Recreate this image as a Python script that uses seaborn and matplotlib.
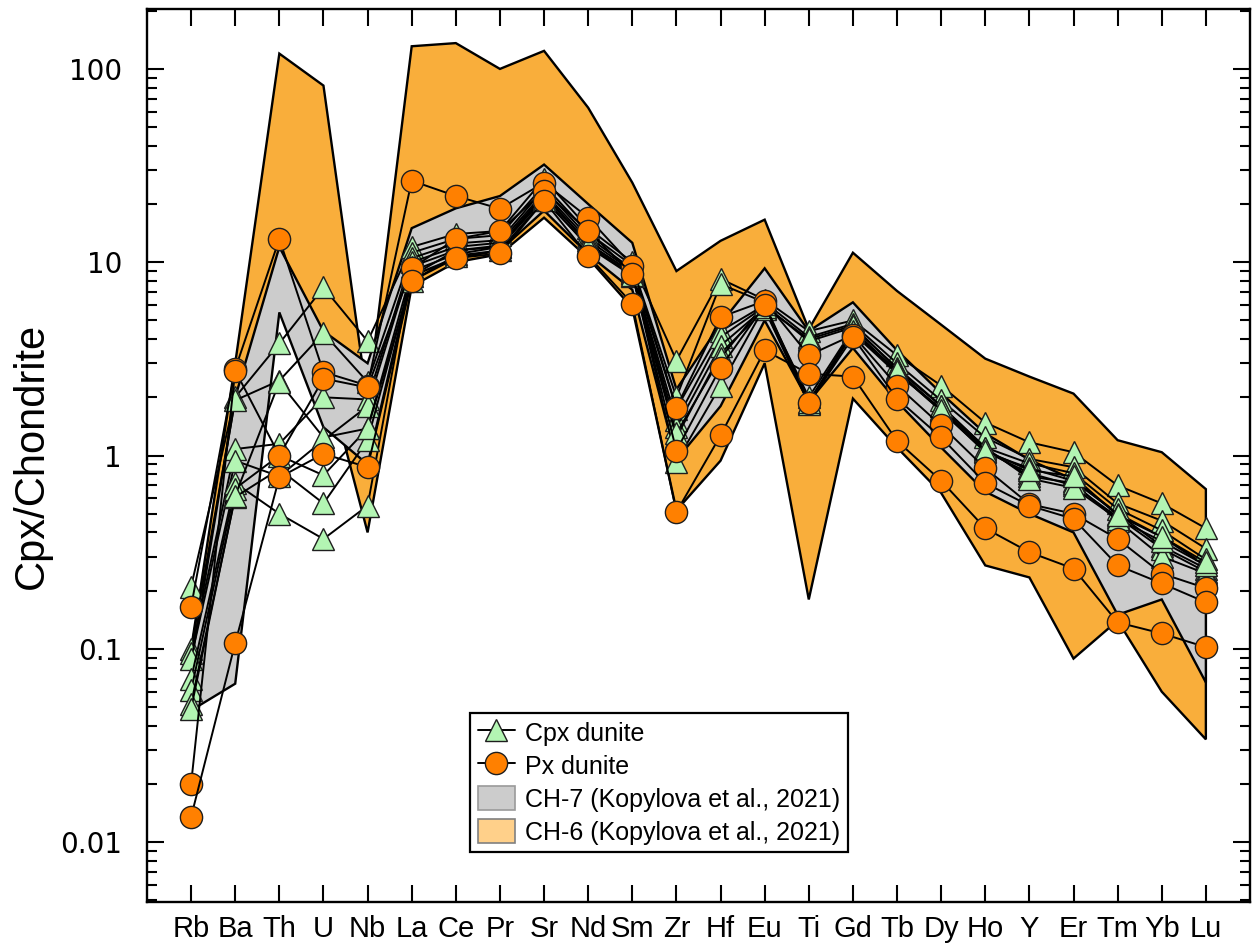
import numpy as np
import pandas as pd
import matplotlib
matplotlib.use("Agg")
import matplotlib.pyplot as plt
import seaborn as sns
from matplotlib import font_manager
from matplotlib.lines import Line2D
from matplotlib.patches import Patch
from matplotlib.ticker import LogLocator, NullFormatter, FixedLocator

# ---------------- data ----------------
elements = ["Rb", "Ba", "Th", "U", "Nb", "La", "Ce", "Pr", "Sr", "Nd", "Sm", "Zr",
            "Hf", "Eu", "Ti", "Gd", "Tb", "Dy", "Ho", "Y", "Er", "Tm", "Yb", "Lu"]

ch6_upper = [0.10, 3.0, 120, 82, 1.9, 131, 136, 100, 124, 63, 25.8, 9.0,
             12.9, 16.6, 4.5, 11.2, 7.1, 4.75, 3.17, 2.56, 2.09, 1.2, 1.04, 0.67]
ch6_lower = [0.05, 1.8, 6.5, 3.0, 0.40, 7.5, 10.0, 11.0, 17.0, 10.5, 5.8, 0.52,
             0.94, 3.0, 0.18, 1.97, 1.10, 0.64, 0.27, 0.234, 0.089, 0.14, 0.06, 0.034]

ch7_upper = [0.085, 2.0, 12.0, 4.4, 3.0, 15.0, 19.0, 22.0, 32.0, 20.0, 12.6, 2.2,
             4.8, 9.3, 4.4, 6.2, 3.5, 2.1, 1.3, 0.95, 0.75, 0.50, 0.38, 0.27]
ch7_lower = [0.048, 0.066, 5.5, 1.4, 0.9, 8.5, 10.5, 11.5, 18.5, 11.0, 7.2, 0.95,
             1.8, 5.0, 1.9, 3.6, 1.9, 1.1, 0.65, 0.50, 0.40, 0.15, 0.18, 0.067]

cpx_1 = [0.21, 2.0, 3.8, 7.4, 3.9, 12.0, 14.0, 14.5, 27.0, 15.0, 10.0, 3.1,
         8.2, 6.4, 4.4, 5.0, 3.3, 2.3, 1.48, 1.17, 1.04, 0.70, 0.565, 0.42]
cpx_2 = [0.10, 1.93, 2.44, 4.3, 2.4, 11.2, 13.2, 13.8, 25.0, 14.2, 9.6, 2.0,
         7.7, 6.2, 4.1, 4.8, 3.0, 1.93, 1.24, 0.96, 0.87, 0.565, 0.46, 0.33]
cpx_3 = [0.095, 1.08, 1.15, 2.0, 1.95, 10.5, 12.5, 13.0, 24.0, 13.5, 9.2, 1.75,
         4.4, 6.0, 3.9, 4.6, 2.85, 1.81, 1.10, 0.91, 0.81, 0.53, 0.41, 0.29]
cpx_4 = [0.089, 0.94, 0.78, 1.2, 1.8, 10.0, 12.0, 12.6, 23.0, 13.0, 9.0, 1.52,
         4.1, 5.9, 2.0, 4.5, 2.7, 1.71, 1.04, 0.86, 0.74, 0.50, 0.34, 0.26]
cpx_5 = [0.07, 0.72, 0.5, 0.37, 0.55, 9.5, 11.5, 12.0, 22.0, 12.5, 8.8, 1.4,
         3.7, 5.8, 1.88, 4.4, 2.7, 1.70, 1.05, 0.81, 0.70, 0.48, 0.33, 0.25]
cpx_6 = [0.061, 0.675, 1.0, 0.79, 1.38, 9.0, 11.0, 12.0, 21.5, 12.0, 8.5, 1.24,
         3.37, 5.7, 1.85, 4.3, 2.65, 1.75, 1.08, 0.78, 0.72, 0.46, 0.30, 0.245]
cpx_7 = [0.052, 0.61, 0.85, 0.565, 1.2, 8.5, 11.5, 12.2, 22.5, 12.5, 8.8, 0.93,
         2.3, 5.9, 4.0, 4.7, 2.8, 1.80, 1.10, 0.76, 0.68, 0.47, 0.36, 0.27]
cpx_8 = [0.049, 0.62, 2.4, 1.24, 1.38, 8.0, 10.8, 11.5, 21.0, 12.2, 8.6, 1.3,
         3.2, 6.1, 1.9, 4.4, 2.75, 1.72, 1.06, 0.84, 0.78, 0.49, 0.38, 0.28]

px_1 = [0.165, 2.8, 13.2, 2.7, 2.3, 26.4, 22.0, 18.9, 25.8, 17.0, 9.6, 1.77,
        5.2, 6.3, 3.3, 4.2, 2.3, 1.43, 0.86, 0.56, 0.50, 0.37, 0.245, 0.206]
px_2 = [0.02, 2.75, 1.0, 2.5, 2.25, 9.3, 13.2, 14.5, 23.4, 14.5, 8.7, 1.06,
        2.85, 6.0, 1.86, 4.1, 1.97, 1.24, 0.72, 0.55, 0.47, 0.27, 0.218, 0.174]
px_3 = [0.0135, 0.107, 0.77, 1.02, 0.87, 8.0, 10.5, 11.1, 20.8, 10.8, 6.1, 0.51,
        1.27, 3.5, 2.65, 2.56, 1.19, 0.74, 0.42, 0.316, 0.26, 0.137, 0.12, 0.102]

y_ticks = [0.01, 0.1, 1, 10, 100]
y_tick_labels = ["0.01", "0.1", "1", "10", "100"]

# ---------------- style / fonts ----------------
sns.set_style("ticks")
avail = {f.name for f in font_manager.fontManager.ttflist}
narrow = "Liberation Sans Narrow" if "Liberation Sans Narrow" in avail else "Liberation Sans"
plt.rcParams["font.family"] = ["Liberation Sans", "DejaVu Sans"]
for k in ["text.color", "axes.labelcolor", "xtick.color", "ytick.color",
          "axes.edgecolor"]:
    plt.rcParams[k] = "black"

# ---------------- build frames ----------------
pos = {e: i for i, e in enumerate(elements)}


def long_frame(series):
    rows = []
    for name, vals in series.items():
        for e, v in zip(elements, vals):
            rows.append({"sample": name, "pos": pos[e], "value": v})
    return pd.DataFrame(rows)


cpx_df = long_frame({"c1": cpx_1, "c2": cpx_2, "c3": cpx_3, "c4": cpx_4,
                     "c5": cpx_5, "c6": cpx_6, "c7": cpx_7, "c8": cpx_8})
px_df = long_frame({"p1": px_1, "p2": px_2, "p3": px_3})

# ---------------- figure ----------------
fig = plt.figure(figsize=(12.53, 9.47), dpi=100)
ax = fig.add_axes([0.1173, 0.0475, 0.8803, 0.943])

xs = np.arange(len(elements))
ax.fill(np.r_[xs, xs[::-1]], np.r_[ch6_upper, ch6_lower[::-1]],
        facecolor="#f9ae3b", edgecolor="black", lw=1.7, zorder=1)
ax.fill(np.r_[xs, xs[::-1]], np.r_[ch7_upper, ch7_lower[::-1]],
        facecolor="#cccccc", edgecolor="black", lw=1.7, zorder=2)

sns.lineplot(data=cpx_df, x="pos", y="value", units="sample", estimator=None,
             sort=False, color="black", lw=1.4, marker="^", markersize=16,
             markerfacecolor="#b3f5b3", markeredgecolor="#1e1e1e",
             markeredgewidth=1.0, legend=False, ax=ax, zorder=3)
sns.lineplot(data=px_df, x="pos", y="value", units="sample", estimator=None,
             sort=False, color="black", lw=1.4, marker="o", markersize=16,
             markerfacecolor="#ff8000", markeredgecolor="#1e1e1e",
             markeredgewidth=1.0, legend=False, ax=ax, zorder=4)

ax.set_yscale("log")
ax.set_ylim(10 ** -2.31, 10 ** 2.31)
ax.set_xlim(-1, len(elements))

ax.xaxis.set_major_locator(FixedLocator(xs))
ax.set_xticklabels(elements, fontfamily=narrow, fontsize=21, color="black")
ax.yaxis.set_major_locator(FixedLocator(y_ticks))
ax.set_yticklabels(y_tick_labels, fontfamily="DejaVu Sans", fontsize=20, color="black")
ax.yaxis.set_minor_locator(LogLocator(base=10, subs=np.arange(2, 10), numticks=20))
ax.yaxis.set_minor_formatter(NullFormatter())

ax.tick_params(which="both", direction="in", top=True, right=True, width=1.5,
               colors="black")
ax.tick_params(which="major", length=12)
ax.tick_params(which="minor", length=7)
ax.tick_params(axis="x", pad=9)
ax.tick_params(axis="y", pad=18)

ax.set_xlabel("")
ax.set_ylabel("Cpx/Chondrite", fontfamily=narrow, fontsize=30, labelpad=6,
              color="black")

for s in ax.spines.values():
    s.set_linewidth(1.7)
    s.set_color("black")

handles = [
    Line2D([0], [0], color="black", lw=1.4, marker="^", markersize=16,
           markerfacecolor="#b3f5b3", markeredgecolor="#1e1e1e"),
    Line2D([0], [0], color="black", lw=1.4, marker="o", markersize=16,
           markerfacecolor="#ff8000", markeredgecolor="#1e1e1e"),
    Patch(facecolor="#cccccc", edgecolor="#9a9a9a", lw=1.2),
    Patch(facecolor="#ffd08a", edgecolor="#808080", lw=1.2),
]
labels = ["Cpx dunite", "Px dunite", "CH-7 (Kopylova et al., 2021)",
          "CH-6 (Kopylova et al., 2021)"]
leg = ax.legend(handles, labels, loc="lower left", bbox_to_anchor=(0.293, 0.056),
                fontsize=18, frameon=True, fancybox=False, handlelength=1.5,
                handleheight=1.1, handletextpad=0.4, borderpad=0.3,
                labelspacing=0.3, borderaxespad=0)
leg.get_frame().set_edgecolor("black")
leg.get_frame().set_linewidth(1.6)
leg.get_frame().set_alpha(1)
for t in leg.get_texts():
    t.set_color("black")
leg.set_zorder(10)

fig.savefig("out.png", dpi=100)
